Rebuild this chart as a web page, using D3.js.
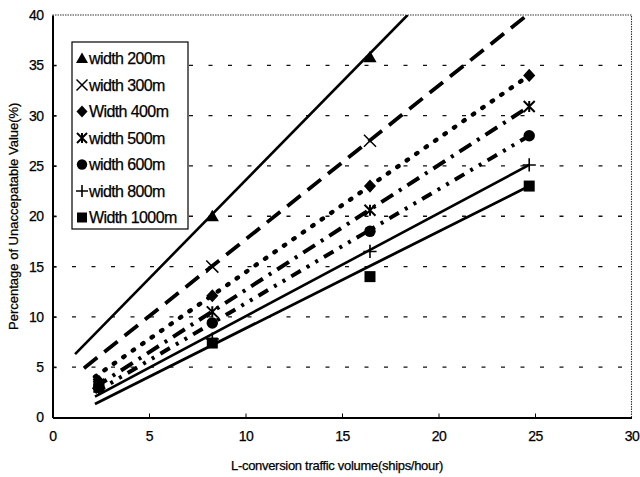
<!DOCTYPE html>
<html>
<head>
<meta charset="utf-8">
<script src="https://cdnjs.cloudflare.com/ajax/libs/d3/7.8.5/d3.min.js"></script>
<style>
  body { margin: 0; background: #fff; }
  svg text { font-family: "Liberation Sans", Arial, sans-serif; fill: #000; stroke: #000; stroke-width: 0.25; }
</style>
</head>
<body>
<svg id="chart" width="640" height="477"></svg>
<script>
"use strict";

// ---- data ----
var xTicks = [0, 5, 10, 15, 20, 25, 30];
var yTicks = [0, 5, 10, 15, 20, 25, 30, 35, 40];
var trafficX = [2.4, 8.28, 16.45, 24.7];

var seriesNames = ["width 200m", "width 300m", "Width 400m", "width 500m", "width 600m", "width 800m", "Width 1000m"];
var w200 = [null, 20.0, 35.8, null];
var w300 = [null, 15.0, 27.5, null];
var w400 = [3.6, 12.1, 23.0, 34.0];
var w500 = [3.3, 10.5, 20.6, 30.9];
var w600 = [3.1, 9.4, 18.5, 28.0];
var w800 = [2.9, 7.8, 16.5, 25.1];
var w1000 = [3.0, 7.4, 14.0, 23.0];

// linear trend lines: [x start, y start, x end, y end]
var trend200 = [1.17, 6.3, 18.4, 40];
var trend300 = [1.63, 4.9, 24.6, 40];
var trend400 = [2.2, 4.05, 24.7, 34.0];
var trend500 = [2.2, 3.0, 24.7, 30.9];
var trend600 = [2.2, 2.5, 24.7, 28.0];
var trend800 = [2.2, 2.07, 24.7, 25.1];
var trend1000 = [2.2, 1.34, 24.7, 23.0];

var values = [w200, w300, w400, w500, w600, w800, w1000];
var trends = [trend200, trend300, trend400, trend500, trend600, trend800, trend1000];
var markers = ["triangle", "cross", "diamond", "asterisk", "circle", "plus", "square"];
var lineStyles = [
  {dash: null, width: 2.6},
  {dash: "17,9", width: 3.8},
  {dash: "1.5,10", width: 4.4, cap: "round"},
  {dash: "14,7,3,7", width: 4},
  {dash: "11,7,3,7,3,7", width: 4},
  {dash: null, width: 2.6},
  {dash: null, width: 2.8}
];

// ---- layout ----
var margin = {left: 52.5, right: 8.5, top: 15, bottom: 59.5};
var W = 640, H = 477;
var svg = d3.select("#chart");

var x = d3.scaleLinear().domain([0, 30]).range([margin.left, W - margin.right]);
var y = d3.scaleLinear().domain([0, 40]).range([H - margin.bottom, margin.top]);

// horizontal dashed gridlines
svg.append("g").selectAll("line")
  .data(yTicks.filter(function(d) { return d > 0 && d < 40; }))
  .enter().append("line")
    .attr("x1", x(0)).attr("x2", x(30))
    .attr("y1", function(d) { return y(d); })
    .attr("y2", function(d) { return y(d); })
    .attr("stroke", "#111").attr("stroke-width", 1.3)
    .attr("stroke-dasharray", "4,15.5");

// top and right border (dotted)
svg.append("path")
  .attr("d", "M" + x(0) + "," + y(40) + "H" + x(30) + "V" + y(0))
  .attr("fill", "none").attr("stroke", "#333").attr("stroke-width", 1.1)
  .attr("stroke-dasharray", "1.5,1");

// axes
var xAxis = svg.append("g")
  .attr("transform", "translate(0," + y(0) + ")")
  .call(d3.axisBottom(x).tickValues(xTicks).tickSize(-4).tickPadding(14).tickSizeOuter(0));
var yAxis = svg.append("g")
  .attr("transform", "translate(" + x(0) + ",0)")
  .call(d3.axisLeft(y).tickValues(yTicks).tickSize(-4).tickPadding(9).tickSizeOuter(0));
[xAxis, yAxis].forEach(function(a) {
  a.select(".domain").attr("stroke", "#000").attr("stroke-width", 2);
  a.selectAll(".tick line").attr("stroke", "#000").attr("stroke-width", 1);
  a.selectAll(".tick text").attr("font-size", 14).attr("font-family", "Liberation Sans, Arial, sans-serif")
    .attr("letter-spacing", -0.5);
});
xAxis.selectAll(".tick").filter(function(d) { return d === 0 || d === 30; }).select("line").remove();
yAxis.selectAll(".tick").filter(function(d) { return d === 0 || d === 40; }).select("line").remove();

// axis titles
svg.append("text")
  .attr("x", (x(0) + x(30)) / 2 - 5).attr("y", 470)
  .attr("text-anchor", "middle").attr("font-size", 13).attr("letter-spacing", -0.3)
  .text("L-conversion traffic volume(ships/hour)");
svg.append("text")
  .attr("transform", "translate(18," + ((y(0) + y(40)) / 2) + ") rotate(-90)")
  .attr("text-anchor", "middle").attr("font-size", 13)
  .text("Percentage of Unaccepatable Value(%)");

// trend lines
var plot = svg.append("g");
plot.append("clipPath").attr("id", "clip")
  .append("rect").attr("x", x(0)).attr("y", y(40))
  .attr("width", x(30) - x(0)).attr("height", y(0) - y(40));

trends.forEach(function(t, i) {
  var st = lineStyles[i];
  plot.append("line")
    .attr("clip-path", "url(#clip)")
    .attr("x1", x(t[0])).attr("y1", y(t[1]))
    .attr("x2", x(t[2])).attr("y2", y(t[3]))
    .attr("stroke", "#000")
    .attr("stroke-width", st.width)
    .attr("stroke-linecap", st.cap || "butt")
    .attr("stroke-dasharray", st.dash);
});

// marker shapes
function drawMarker(g, type, cx, cy, s) {
  var m = g.append("g").attr("transform", "translate(" + cx + "," + cy + ")");
  if (type === "triangle") {
    m.append("path").attr("d", "M0," + (-s * 0.6) + "L" + (s * 0.6) + "," + (s * 0.45) + "L" + (-s * 0.6) + "," + (s * 0.45) + "Z").attr("fill", "#000");
  } else if (type === "square") {
    m.append("rect").attr("x", -s / 2).attr("y", -s / 2).attr("width", s).attr("height", s).attr("fill", "#000");
  } else if (type === "diamond") {
    m.append("path").attr("d", "M0," + (-s * 0.6) + "L" + (s * 0.55) + ",0L0," + (s * 0.6) + "L" + (-s * 0.55) + ",0Z").attr("fill", "#000");
  } else if (type === "circle") {
    m.append("circle").attr("r", s * 0.52).attr("fill", "#000");
  } else if (type === "cross") {
    var r = s * 0.55;
    m.append("path").attr("d", "M" + (-r) + "," + (-r) + "L" + r + "," + r + "M" + r + "," + (-r) + "L" + (-r) + "," + r)
      .attr("stroke", "#000").attr("stroke-width", 1.5);
  } else if (type === "plus") {
    var p = s * 0.6;
    m.append("path").attr("d", "M" + (-p) + ",0H" + p + "M0," + (-p) + "V" + p)
      .attr("stroke", "#000").attr("stroke-width", 1.6);
  } else if (type === "asterisk") {
    var a = s * 0.5;
    m.append("path").attr("d", "M" + (-a) + "," + (-a) + "L" + a + "," + a + "M" + a + "," + (-a) + "L" + (-a) + "," + a + "M0," + (-a) + "V" + a)
      .attr("stroke", "#000").attr("stroke-width", 2);
  }
}

values.forEach(function(vals, i) {
  var g = plot.append("g");
  vals.forEach(function(v, j) {
    if (v === null) return;
    drawMarker(g, markers[i], x(trafficX[j]), y(v), 11);
  });
});

// legend
var legend = svg.append("g");
var lgX = 72, lgY = 42, lgW = 116, lgH = 187, rowH = 26.5;
legend.append("rect")
  .attr("x", lgX).attr("y", lgY).attr("width", lgW).attr("height", lgH)
  .attr("fill", "#fff").attr("stroke", "#000").attr("stroke-width", 1.2);
seriesNames.forEach(function(name, i) {
  var cy = lgY + 16.5 + i * rowH;
  drawMarker(legend, markers[i], lgX + 10, cy, 10);
  legend.append("text")
    .attr("x", lgX + 17).attr("y", cy + 5.5)
    .attr("font-size", 16).attr("letter-spacing", -0.6)
    .text(name);
});
</script>
</body>
</html>
